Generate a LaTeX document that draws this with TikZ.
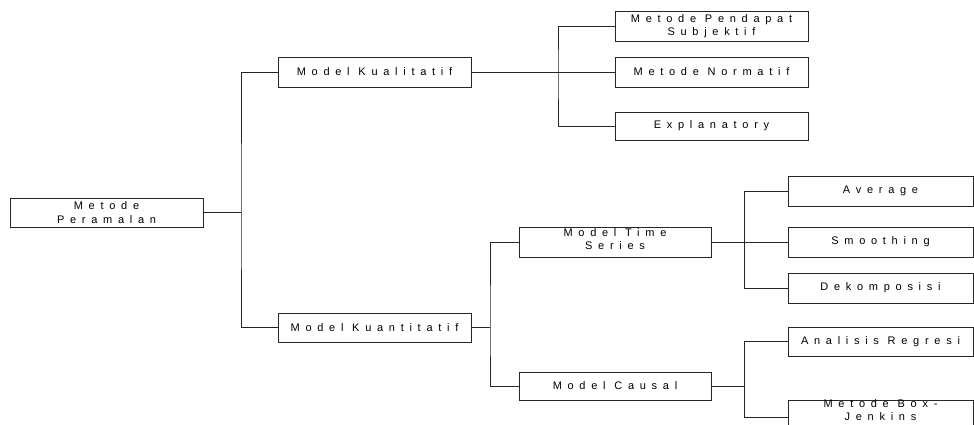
\documentclass[tikz,border=0pt]{standalone}
\usepackage{fontspec}
\newfontfamily\boxfont{Liberation Sans}[LetterSpace=52]
\begin{document}
\begin{tikzpicture}[x=1pt,y=-1pt,
  box/.style={draw=black!85, line width=1pt, minimum width=193pt, minimum height=30pt,
    inner sep=1pt, align=center, font=\boxfont\fontsize{11}{13.5}\selectfont},
  rbox/.style={box, minimum width=185pt},
  lbl/.style={inner sep=0pt, align=center, font=\boxfont\fontsize{11}{13}\selectfont},
  conn/.style={draw=black!85, line width=1pt}]
\useasboundingbox (0,0) rectangle (974,424);
\clip (0,0) rectangle (974,424);
\fill[white] (0,0) rectangle (974,424);
% nodes
\node[box, minimum height=29pt] (per) at (106.5,212.5) {Metode\\Peramalan};
\node[box] (kual) at (374.5,72) {Model Kualitatif};
\node[box, minimum height=29pt] (kuan) at (374.5,327.5) {Model Kuantitatif};
\node[box] (pend) at (711.5,26) {Metode Pendapat\\Subjektif};
\node[box] (norm) at (711.5,72) {Metode Normatif};
\node[box, minimum height=28pt] (expl) at (711.5,126) {Explanatory};
\node[box, minimum width=192pt] (ts) at (615,242) {};
\node[lbl, anchor=north] (tst) at ([yshift=-1.5pt]ts.north) {Model Time\\Series};
\node[box, minimum width=192pt, minimum height=28pt] (causal) at (615,386) {Model Causal};
\node[rbox] (avg) at (880.5,191) {Average};
\node[rbox] (smooth) at (880.5,242) {Smoothing};
\node[rbox] (dek) at (880.5,288) {Dekomposisi};
\node[rbox, minimum height=29pt] (anal) at (880.5,341.5) {Analisis Regresi};
\node[rbox] (bj) at (880.5,415) {};
\node[lbl, anchor=north] (bjt) at ([yshift=0.5pt]bj.north) {Metode Box-\\Jenkins};
% junctions
\coordinate (j1) at (241,212.5);
\coordinate (j2) at (558,72);
\coordinate (j3) at (490,327.5);
\coordinate (j4) at (744,242);
\coordinate (j5) at (744,386);
% connectors
\draw[conn] (per.east) -- (j1);
\draw[conn] (kual.west) -| (j1) |- (kuan.west);
\draw[conn] (kual.east) -- (norm.west);
\draw[conn] (pend.west) -| (j2) |- (expl.west);
\draw[conn] (kuan.east) -- (j3);
\draw[conn] (ts.west) -| (j3) |- (causal.west);
\draw[conn] (ts.east) -- (smooth.west);
\draw[conn] (avg.west) -| (j4) |- (dek.west);
\draw[conn] (causal.east) -- (j5);
\draw[conn] (anal.west) -| (j5) |- ([yshift=-2pt]bj.west);
\end{tikzpicture}
\end{document}
